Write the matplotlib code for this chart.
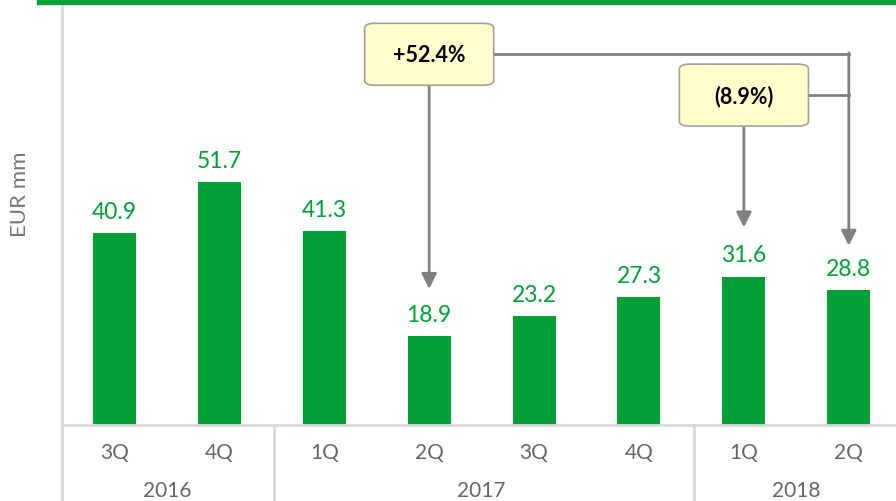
import matplotlib.pyplot as plt
from matplotlib.lines import Line2D
from matplotlib.patches import FancyBboxPatch
from matplotlib import transforms

plt.rcParams['font.family'] = ['Lato', 'DejaVu Sans']

quarters = ['3Q', '4Q', '1Q', '2Q', '3Q', '4Q', '1Q', '2Q']
years = ['2016', '2017', '2018']
year_spans = [(0, 1), (2, 5), (6, 7)]
values = [40.9, 51.7, 41.3, 18.9, 23.2, 27.3, 31.6, 28.8]
growth_labels = ['+52.4%', '(8.9%)']

green = '#00A036'
gray_line = '#808080'
light_gray = '#D9D9D9'
text_gray = '#666666'

fig = plt.figure(figsize=(8.96, 5.02), dpi=100)
ax = fig.add_axes([62 / 896, 76 / 502, 834 / 896, 420 / 502])

x = list(range(len(values)))
ax.bar(x, values, width=0.41, color=green, zorder=2)
for xi, v in zip(x, values):
    ax.text(xi, v + 2.4, f'{v:.1f}', ha='center', va='bottom', color=green,
            fontsize=16.5)

ax.set_xlim(-0.5, 7.45)
ax.set_ylim(0, 89.5)
ax.set_yticks([])
ax.set_xticks(x)
ax.set_xticklabels(quarters, color=text_gray, fontsize=15)
ax.tick_params(axis='x', length=0, pad=12)

for s in ['top', 'right']:
    ax.spines[s].set_visible(False)
ax.spines['left'].set_color(light_gray)
ax.spines['left'].set_linewidth(2)
ax.spines['bottom'].set_color(light_gray)
ax.spines['bottom'].set_linewidth(2)

# category separators below the axis
trans = transforms.blended_transform_factory(ax.transData, ax.transAxes)
for sx in [-0.5, 1.52, 5.52]:
    ax.add_line(Line2D([sx, sx], [0, -0.2], transform=trans, color=light_gray,
                       lw=2, clip_on=False))
for label, (a, b) in zip(years, year_spans):
    ax.text((a + b) / 2, -0.154, label, transform=trans, ha='center', va='center',
            color=text_gray, fontsize=15)

fig.text(20 / 896, 1 - 194 / 502, 'EUR mm', rotation=90, ha='center', va='center',
         color='#777777', fontsize=16)

# top green rule
fig.add_artist(Line2D([40 / 896, 1], [1 - 3 / 502, 1 - 3 / 502], color=green, lw=4.5))

# growth call-outs
box_w, box_h = 1.23, 13.2
boxes = [(3, 79.0), (6, 70.3)]
for (bx, by), lab in zip(boxes, growth_labels):
    ax.add_patch(FancyBboxPatch((bx - box_w / 2, by - box_h / 2), box_w, box_h,
                                boxstyle='round,pad=0,rounding_size=0.1',
                                mutation_aspect=10, facecolor='#FFFFCC',
                                edgecolor='#A0A0A0', lw=1.2, zorder=4, clip_on=False))
    ax.text(bx, by, lab, ha='center', va='center', fontsize=15.5, fontweight='bold',
            color='black', zorder=5)

arrow = dict(arrowstyle='-|>,head_length=0.9,head_width=0.45', color=gray_line,
             lw=2, shrinkA=0, shrinkB=0)
# +52.4%: down to 2Q17 and across to 2Q18
ax.annotate('', xy=(3, values[3] + 10.1), xytext=(3, boxes[0][1] - box_h / 2),
            arrowprops=arrow, zorder=3)
ax.plot([3 + box_w / 2, 7], [boxes[0][1], boxes[0][1]], color=gray_line, lw=2,
        zorder=3, clip_on=False)
ax.annotate('', xy=(7, values[7] + 9.4), xytext=(7, boxes[0][1] + 0.3),
            arrowprops=arrow, zorder=3)
# (8.9%): 1Q18 and 2Q18
ax.annotate('', xy=(6, values[6] + 10.5), xytext=(6, boxes[1][1] - box_h / 2),
            arrowprops=arrow, zorder=3)
ax.plot([6 + box_w / 2, 7], [boxes[1][1], boxes[1][1]], color=gray_line, lw=2,
        zorder=3)

fig.savefig('out.png', dpi=100)
